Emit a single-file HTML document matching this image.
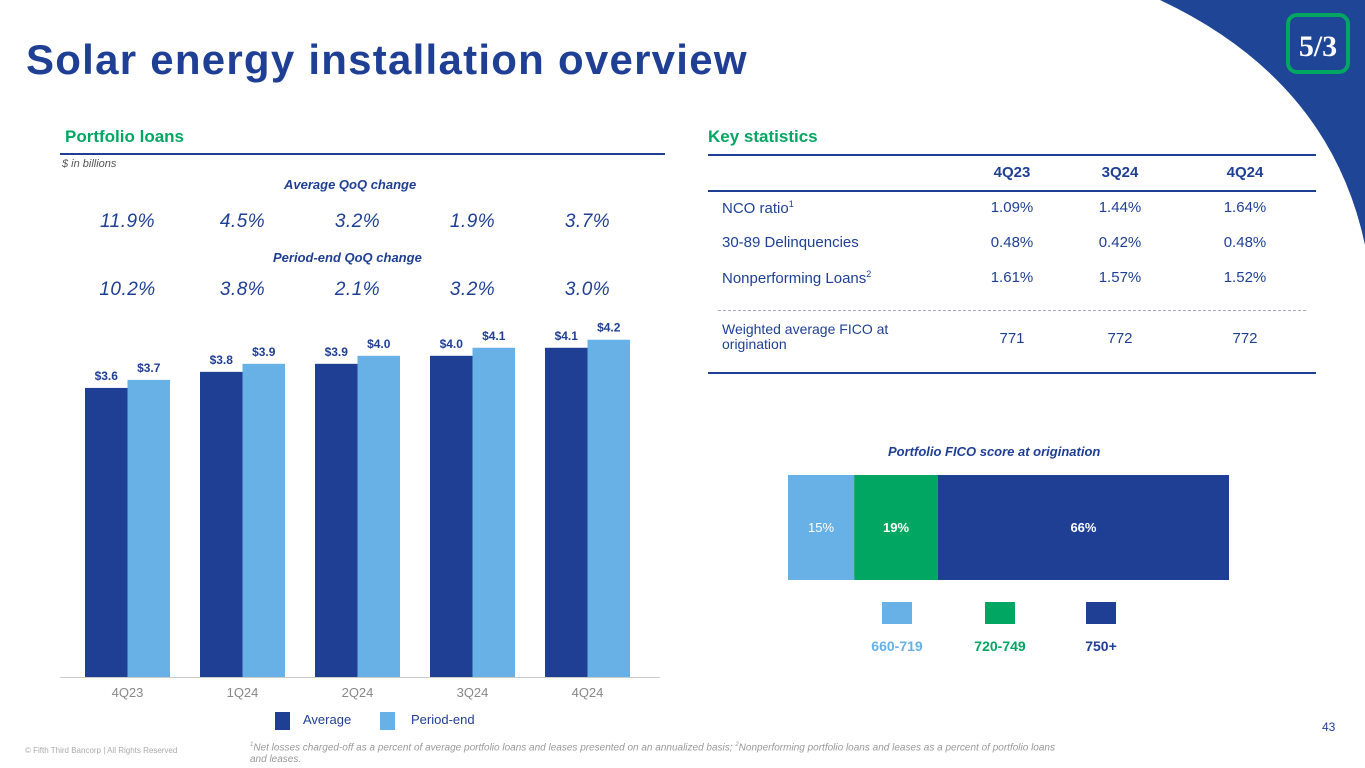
<!DOCTYPE html>
<html><head><meta charset="utf-8"><style>
*{margin:0;padding:0;box-sizing:border-box}
body{width:1365px;height:768px;position:relative;overflow:hidden;background:#fff;font-family:"Liberation Sans","DejaVu Sans",sans-serif;color:#1f3f94}
.a{position:absolute;white-space:nowrap}
.pct{font-style:italic;font-size:19px;color:#1f3f94;width:100px;text-align:center;letter-spacing:0.5px}
.sub{font-style:italic;font-weight:bold;font-size:13px;color:#1f3f94}
.cell{font-size:15px;color:#1f3f94}
.c{width:100px;text-align:center}
</style></head><body>
<svg class="a" style="left:0;top:0" width="1365" height="768">
<path d="M1160,0 Q1330,80 1365,245 L1365,0 Z" fill="#1f4596"/>
<rect x="1288" y="15" width="60" height="57" rx="9" fill="#1f4596" stroke="#00a661" stroke-width="4"/>
<text x="1318" y="56" fill="#fff" font-size="30" font-weight="bold" text-anchor="middle" font-family="Liberation Serif">5/3</text>
</svg>
<div class="a" style="left:26px;top:36px;font-size:42px;font-weight:bold;color:#1f3f94;letter-spacing:1.25px">Solar energy installation overview</div>

<div class="a" style="left:65px;top:127px;font-size:17px;font-weight:bold;color:#00a661">Portfolio loans</div>
<div class="a" style="left:60px;top:153px;width:605px;height:2px;background:#1f3f94"></div>
<div class="a" style="left:62px;top:158px;font-size:11px;font-style:italic;color:#555">$ in billions</div>
<div class="a sub" style="left:284px;top:177px">Average QoQ change</div>
<div class="a sub" style="left:273px;top:250px">Period-end QoQ change</div>
<div id="pcts"></div>

<svg id="chart" class="a" style="left:0;top:0" width="700" height="768"></svg>

<div class="a" style="left:275px;top:712px;width:15px;height:18px;background:#1f3f94"></div>
<div class="a" style="left:303px;top:712px;font-size:13px">Average</div>
<div class="a" style="left:380px;top:712px;width:15px;height:18px;background:#67b1e6"></div>
<div class="a" style="left:411px;top:712px;font-size:13px">Period-end</div>

<div class="a" style="left:708px;top:127px;font-size:17px;font-weight:bold;color:#00a661">Key statistics</div>
<div class="a" style="left:708px;top:154px;width:608px;height:2px;background:#1f3f94"></div>
<div class="a" style="left:708px;top:190px;width:608px;height:2px;background:#1f3f94"></div>
<div class="a" style="left:718px;top:310px;width:588px;border-top:1px dashed #aab"></div>
<div class="a" style="left:708px;top:372px;width:608px;height:2px;background:#1f3f94"></div>
<div id="table"></div>

<div class="a sub" style="left:888px;top:444px">Portfolio FICO score at origination</div>
<svg id="fico" class="a" style="left:0;top:0" width="1365" height="768"></svg>

<div class="a" style="left:25px;top:746px;font-size:8px;color:#aaa">© Fifth Third Bancorp | All Rights Reserved</div>
<div class="a" style="left:250px;top:739px;font-size:10px;font-style:italic;color:#999;white-space:normal;width:820px;line-height:12px"><sup style="font-size:6px">1</sup>Net losses charged-off as a percent of average portfolio loans and leases presented on an annualized basis; <sup style="font-size:6px">2</sup>Nonperforming portfolio loans and leases as a percent of portfolio loans and leases.</div>
<div class="a" style="left:1322px;top:720px;font-size:12px">43</div>

<script>
const categories=["4Q23","1Q24","2Q24","3Q24","4Q24"];
const averageValues=[3.6,3.8,3.9,4.0,4.1];
const periodEndValues=[3.7,3.9,4.0,4.1,4.2];
const avgQoQ=["11.9%","4.5%","3.2%","1.9%","3.7%"];
const peQoQ=["10.2%","3.8%","2.1%","3.2%","3.0%"];
const tableCols=["4Q23","3Q24","4Q24"];
const tableRows=[["NCO ratio","1"],["30-89 Delinquencies",""],["Nonperforming Loans","2"]];
const tableVals=[["1.09%","1.44%","1.64%"],["0.48%","0.42%","0.48%"],["1.61%","1.57%","1.52%"]];
const ficoVals=["771","772","772"];
const ficoBuckets=["660-719","720-749","750+"];
const ficoShares=[15,19,66];

const NS="http://www.w3.org/2000/svg";
const svg=document.getElementById('chart');
const base=677, scale=80.3, x0=85, step=115, bw=42.5;
const yv=v=>base-v*scale;
const xg=i=>x0+i*step;
function mk(tag,attrs,parent){const e=document.createElementNS(NS,tag);for(const k in attrs)e.setAttribute(k,attrs[k]);parent.appendChild(e);return e;}
categories.forEach((c,i)=>{
  const a=mk('rect',{x:xg(i),y:yv(averageValues[i]),width:bw,height:averageValues[i]*scale,fill:'#1f3f94'},svg);
  
  
  const p=mk('rect',{x:xg(i)+bw,y:yv(periodEndValues[i]),width:bw,height:periodEndValues[i]*scale,fill:'#67b1e6'},svg);
  
  
  const t1=mk('text',{x:xg(i)+bw/2,y:yv(averageValues[i])-8,'text-anchor':'middle','font-size':12,'font-weight':'bold',fill:'#1f3f94'},svg);
  t1.textContent='$'+averageValues[i].toFixed(1);
  
  
  const t2=mk('text',{x:xg(i)+bw*1.5,y:yv(periodEndValues[i])-8,'text-anchor':'middle','font-size':12,'font-weight':'bold',fill:'#1f3f94'},svg);
  t2.textContent='$'+periodEndValues[i].toFixed(1);
  
  
  const t3=mk('text',{x:xg(i)+bw,y:697,'text-anchor':'middle','font-size':13,fill:'#888'},svg);
  t3.textContent=c;
  
  
});
const ax=mk('line',{x1:60,x2:660,y1:base+0.5,y2:base+0.5,stroke:'#ccc'},svg);



const pc=document.getElementById('pcts');
[avgQoQ,peQoQ].forEach((arr,r)=>arr.forEach((v,i)=>{
  const d=document.createElement('div');d.className='a pct';
  d.style.left=(xg(i)+bw-50)+'px';d.style.top=(r?279:211)+'px';d.textContent=v;
  
  
  pc.appendChild(d);
}));

const tb=document.getElementById('table');
const colX=[962,1070,1195];
function cell(txt,l,t,cls,name){const d=document.createElement('div');d.className='a cell '+cls;d.style.left=l+'px';d.style.top=t+'px';d.innerHTML=txt;
  
  
  tb.appendChild(d);}
tableCols.forEach((c,j)=>cell('<b>'+c+'</b>',colX[j],164,'c','col-header-'+c));
tableRows.forEach((r,i)=>{
  const y=199+i*35;
  cell(r[0]+(r[1]?'<sup style="font-size:9px">'+r[1]+'</sup>':''),722,y,'','row-label-'+i);
  tableVals[i].forEach((v,j)=>cell(v,colX[j],y,'c','cell-'+i+'-'+j));
});
cell('<span style="font-size:14px;line-height:15px;white-space:normal;display:block;width:220px">Weighted average FICO at origination</span>',722,322,'','row-label-fico');
ficoVals.forEach((v,j)=>cell(v,colX[j],330,'c','cell-fico-'+j));

const fs=document.getElementById('fico');
const fx0=788,fw=441,fcol=['#67b1e6','#00a661','#1f3f94'],ftxt=['#fff','#fff','#fff'];
let cx=fx0;const legX=[882,985,1086];
ficoShares.forEach((s,i)=>{
  const w=fw*s/100;
  const r=mk('rect',{x:cx,y:475,width:w,height:105,fill:fcol[i]},fs);
  
  
  const t=mk('text',{x:cx+w/2,y:532,'text-anchor':'middle','font-size':13,'font-weight':i?'bold':'normal',fill:ftxt[i]},fs);
  t.textContent=s+'%';
  
  
  cx+=w;
  const sw=mk('rect',{x:legX[i],y:602,width:30,height:22,fill:fcol[i]},fs);
  
  
  const lt=mk('text',{x:legX[i]+15,y:651,'text-anchor':'middle','font-size':14,'font-weight':'bold',fill:fcol[i]},fs);
  lt.textContent=ficoBuckets[i];
  
  
});
</script>
</body></html>
